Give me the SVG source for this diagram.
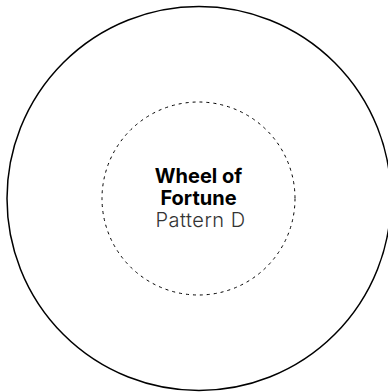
<svg xmlns="http://www.w3.org/2000/svg" width="388" height="392" viewBox="0 0 388 392">
<style>
.outer{fill:none;stroke:#000;stroke-width:1.5}
.inner{fill:none;stroke:#000;stroke-width:1;stroke-dasharray:3 4}
.t{font-family:Inter,"Noto Sans",sans-serif;font-size:20px;text-anchor:middle}
.b{font-weight:700;fill:#000}
.l{font-weight:300;fill:#333;letter-spacing:0.5px}
</style>
<rect width="388" height="392" fill="#fff"/>
<g id="outer-wheel"><circle class="outer" cx="199" cy="198.5" r="192"/></g>
<g id="inner-ring"><circle class="inner" cx="198.5" cy="198.5" r="96.5"/></g>
<g id="label">
<text class="t b" x="198.5" y="183">Wheel of</text>
<text class="t b" x="198.5" y="205">Fortune</text>
<text class="t l" x="200.5" y="227">Pattern D</text>
</g>
<g id="connectors"></g>
</svg>
